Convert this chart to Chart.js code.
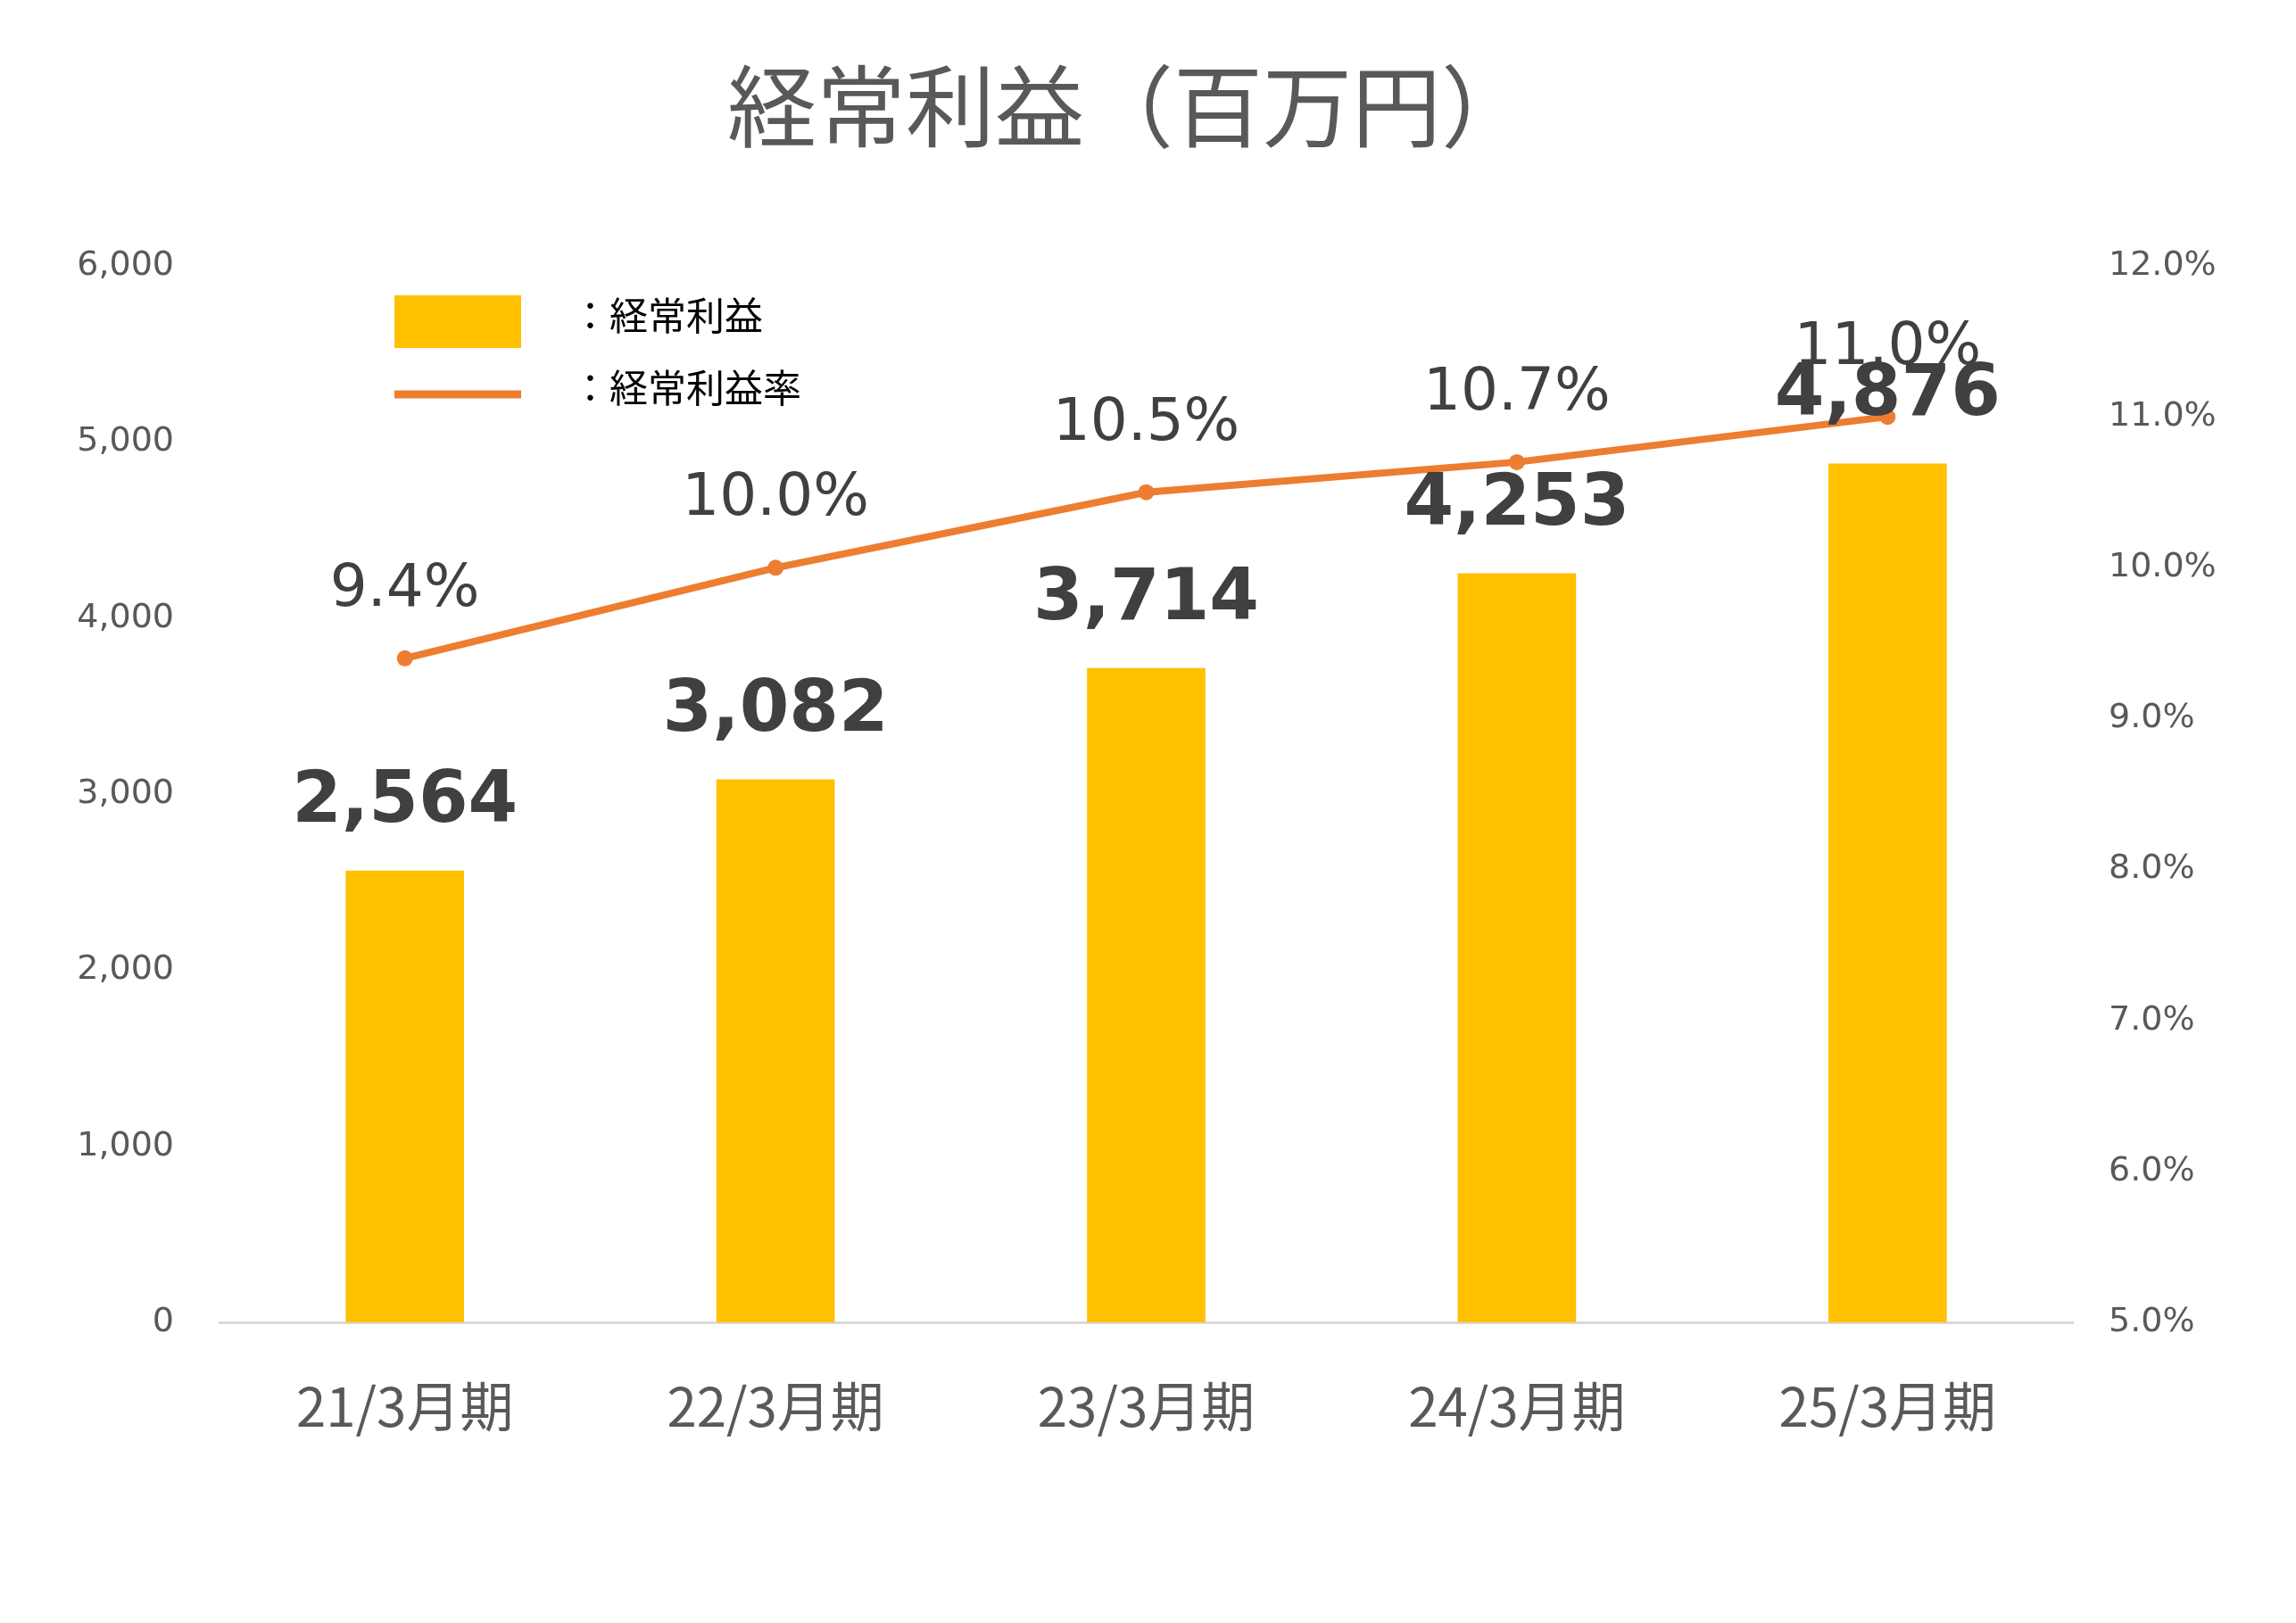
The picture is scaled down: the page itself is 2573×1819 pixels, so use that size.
<!DOCTYPE html>
<html>
<head>
<meta charset="utf-8">
<script src="https://cdn.jsdelivr.net/npm/chart.js@4"></script>
<style>
  html, body { margin: 0; padding: 0; background: #fff; }
  canvas { display: block; }
</style>
</head>
<body>
<canvas id="chart" width="2573" height="1819"></canvas>
<script>
//======================= DATA =======================//
const periods = ['21/3月期', '22/3月期', '23/3月期', '24/3月期', '25/3月期'];
const profit = [2564, 3082, 3714, 4253, 4876];
const margin = [9.4, 10.0, 10.5, 10.7, 11.0];

const titleText = '経常利益（百万円）';
const legendBar = '：経常利益';
const legendLine = '：経常利益率';

const barColor = '#FFC000';
const lineColor = '#ED7D31';
const textColor = '#404040';
const tickColor = '#595959';
const jpFont = '"Noto Sans CJK JP", "DejaVu Sans", sans-serif';
const numFont = '"DejaVu Sans", Verdana, sans-serif';

//======================= PLUGINS =======================//
const decorations = {
    id: 'decorations',
    afterDatasetsDraw(chart) {
        const ctx = chart.ctx;
        ctx.save();
        // title
        ctx.fillStyle = tickColor;
        ctx.font = '100px ' + jpFont;
        ctx.textAlign = 'center';
        ctx.textBaseline = 'middle';
        ctx.fillText(titleText, 1265, 119);

        // legend
        ctx.fillStyle = barColor;
        ctx.fillRect(442, 331, 142, 59);
        ctx.strokeStyle = lineColor;
        ctx.lineWidth = 9;
        ctx.beginPath();
        ctx.moveTo(442, 442);
        ctx.lineTo(584, 442);
        ctx.stroke();
        ctx.fillStyle = '#000';
        ctx.font = '43px ' + jpFont;
        ctx.textAlign = 'left';
        ctx.fillText(legendBar, 640, 354);
        ctx.fillText(legendLine, 640, 435);

        // bar value labels (dataset 1 = bars)
        ctx.textAlign = 'center';
        ctx.fillStyle = textColor;
        ctx.font = 'bold 80px ' + numFont;
        chart.getDatasetMeta(1).data.forEach(function(bar, i) {
            ctx.fillText(profit[i].toLocaleString('en-US'), bar.x, bar.y - 76);
        });

        // line value labels (dataset 0 = line)
        ctx.font = '66px ' + numFont;
        chart.getDatasetMeta(0).data.forEach(function(pt, i) {
            ctx.fillText(margin[i].toFixed(1) + '%', pt.x, pt.y - 76);
        });
        ctx.restore();
    }
};

//======================= CHART =======================//
const ctx = document.getElementById('chart').getContext('2d');
new Chart(ctx, {
    data: {
        labels: periods,
        datasets: [
            {
                type: 'line',
                label: '経常利益率',
                data: margin,
                yAxisID: 'y1',
                borderColor: lineColor,
                backgroundColor: lineColor,
                borderWidth: 8,
                pointRadius: 9,
                pointBackgroundColor: lineColor,
                pointBorderWidth: 0,
                order: 0
            },
            {
                type: 'bar',
                label: '経常利益',
                data: profit,
                yAxisID: 'y',
                backgroundColor: barColor,
                barThickness: 132,
                order: 1
            }
        ]
    },
    options: {
        responsive: false,
        animation: false,
        devicePixelRatio: 1,
        layout: { padding: { top: 298, left: 0, right: 0, bottom: 0 } },
        plugins: {
            legend: { display: false },
            tooltip: { enabled: false }
        },
        scales: {
            x: {
                grid: { display: false },
                border: { color: '#D9D9D9', width: 3 },
                ticks: {
                    color: tickColor,
                    font: { size: 60, family: jpFont },
                    padding: 50
                },
                afterFit(scale) { scale.height = 337; }
            },
            y: {
                position: 'left',
                min: 0,
                max: 6000,
                grid: { display: false, drawTicks: false },
                border: { display: false },
                ticks: {
                    stepSize: 1000,
                    color: tickColor,
                    font: { size: 38, family: numFont },
                    padding: 51,
                    callback: v => v.toLocaleString('en-US')
                },
                afterFit(scale) { scale.width = 246; }
            },
            y1: {
                position: 'right',
                min: 5,
                max: 12,
                grid: { display: false, drawTicks: false },
                border: { display: false },
                ticks: {
                    stepSize: 1,
                    color: tickColor,
                    font: { size: 38, family: numFont },
                    padding: 40,
                    callback: v => v.toFixed(1) + '%'
                },
                afterFit(scale) { scale.width = 250; }
            }
        }
    },
    plugins: [decorations]
});
</script>
</body>
</html>
